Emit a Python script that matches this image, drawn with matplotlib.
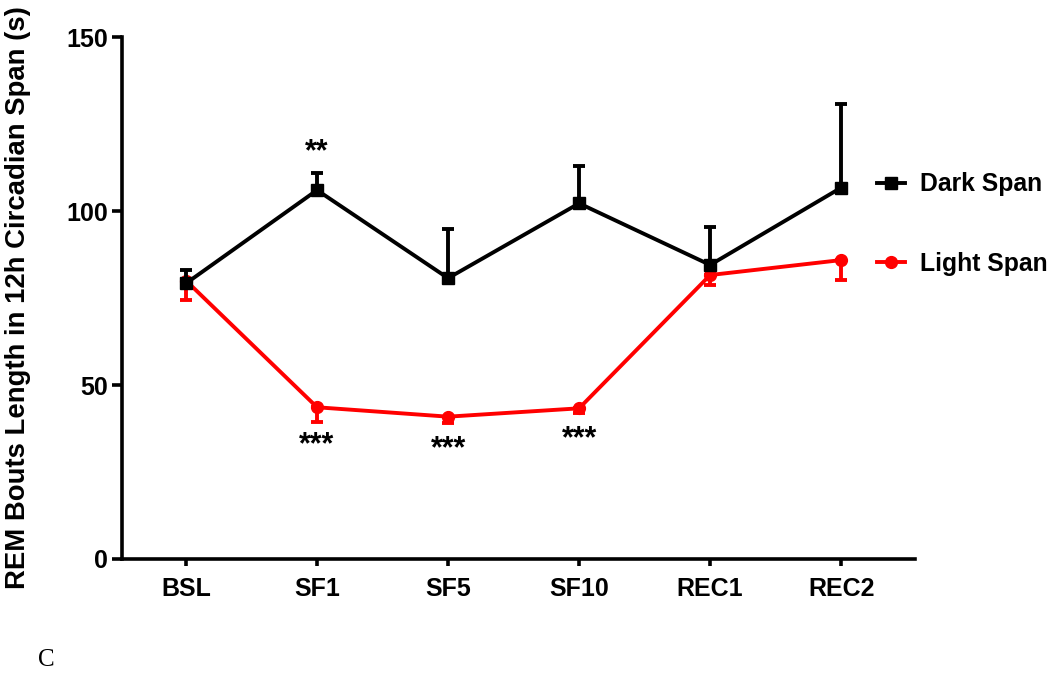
import matplotlib
matplotlib.use("Agg")
import matplotlib.pyplot as plt
from matplotlib.lines import Line2D

# conditions along the x axis
conditions = ["BSL", "SF1", "SF5", "SF10", "REC1", "REC2"]

# REM bout length (s), mean and SEM
dark_mean = [79.2, 106.0, 80.7, 102.2, 84.5, 106.7]
dark_sem = [3.8, 4.8, 14.0, 10.7, 11.0, 24.0]
light_mean = [80.0, 43.6, 40.9, 43.3, 81.6, 85.9]
light_sem = [5.6, 4.1, 1.7, 1.3, 2.9, 5.7]

# significance marks: (index, y position, text)
marks = [(1, 117.0, "**"), (1, 32.8, "***"), (2, 31.6, "***"), (3, 34.4, "***")]

plt.rcParams["font.family"] = ["Liberation Sans", "DejaVu Sans"]
plt.rcParams["font.weight"] = "bold"

fig = plt.figure(figsize=(10.5, 6.73), dpi=100)
ax = fig.add_axes([0.116, 0.1694, 0.755, 0.7756])

x = list(range(len(conditions)))
zeros = [0] * len(x)

ax.errorbar(x, light_mean, yerr=[light_sem, zeros], color="#ff0000", marker="o",
            markersize=8.5, linewidth=2.8, elinewidth=2.8, capsize=4.5, capthick=2.8,
            zorder=3)
ax.errorbar(x, dark_mean, yerr=[zeros, dark_sem], color="black", marker="s",
            markersize=8, linewidth=2.8, elinewidth=2.8, capsize=4.5, capthick=2.8,
            zorder=4)

for i, y, t in marks:
    ax.text(i, y, t, ha="center", va="center", fontsize=22, fontweight="bold")

ax.set_xlim(-0.49, 5.56)
ax.set_ylim(0, 150)
ax.set_yticks([0, 50, 100, 150])
ax.set_xticks(x)
ax.set_xticklabels(conditions, fontsize=18, fontweight="bold")
ax.tick_params(axis="y", labelsize=18, width=2.6, length=7, pad=3)
ax.tick_params(axis="x", width=2.6, length=5, pad=8)
for s in ["top", "right"]:
    ax.spines[s].set_visible(False)
for s in ["left", "bottom"]:
    ax.spines[s].set_linewidth(2.6)

ax.set_ylabel("REM Bouts Length in 12h Circadian Span (s)", fontsize=19.8,
              fontweight="bold")
ax.yaxis.set_label_coords((31 - 122) / 793.0, 0.5)

handles = [
    Line2D([], [], color="black", marker="s", markersize=8, linewidth=2.8),
    Line2D([], [], color="#ff0000", marker="o", markersize=8.5, linewidth=2.8),
]
ax.legend(handles, ["Dark Span", "Light Span"], loc="center left",
          bbox_to_anchor=(877 / 1050, (673 - 224) / 673),
          bbox_transform=fig.transFigure, frameon=False, fontsize=17.8,
          handlelength=1.15, handletextpad=0.6, labelspacing=2.25,
          borderpad=0, borderaxespad=0)

fig.text(38 / 1050, (673 - 660) / 673, "C", fontsize=18, fontweight="normal",
         family=["Liberation Serif", "DejaVu Serif"], ha="left", va="center")

fig.savefig("out.png", dpi=100)
